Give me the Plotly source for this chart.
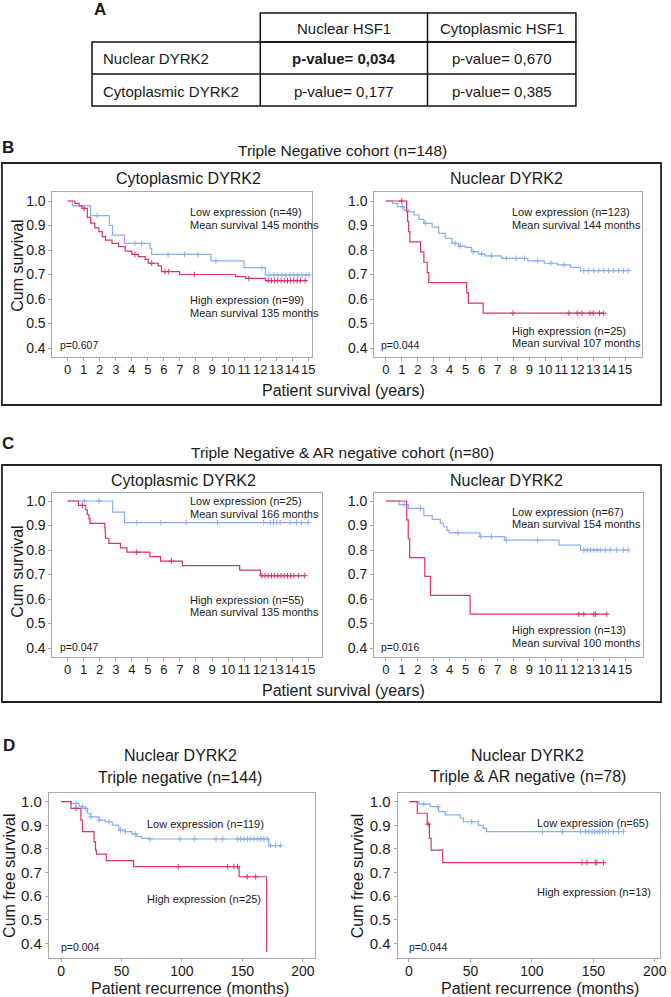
import numpy as np
import plotly.graph_objects as go

W, H = 671, 997
FONT = "Liberation Sans, Arial, Helvetica, sans-serif"
BLUE = "#8aaef0"
RED = "#d6366a"
FRAME = "#a9a9a9"

# ---------------- DATA ----------------
# Panel A table
table_cols = ["Nuclear HSF1", "Cytoplasmic HSF1"]
table_rows = ["Nuclear DYRK2", "Cytoplasmic DYRK2"]
table_pvals = [["0,034", "0,670"], ["0,177", "0,385"]]
table_bold = [[True, False], [False, False]]

# Panel B left: Cytoplasmic DYRK2, TN cohort (years)
bL_low_t = [0.31, 1.44, 2.6, 2.8, 3.55, 5.13, 5.24, 8.93, 10.99, 12.32]
bL_low_s = [0.98, 0.94, 0.90, 0.861, 0.827, 0.805, 0.782, 0.756, 0.728, 0.698]
bL_low_end = 15.1
bL_low_cens = [1.84, 4.2, 4.62, 6.26, 7.29, 8.11, 9.24, 12.1, 12.55, 12.85, 13.1, 13.35,
               13.6, 13.85, 14.1, 14.35, 14.6, 14.85, 15.05]
bL_high_t = [0.45, 0.72, 0.9, 1.23, 1.44, 1.7, 1.95, 2.16, 2.36, 2.77, 3.18, 3.59, 4.0,
             4.41, 4.83, 5.03, 5.65, 5.85, 6.98, 10.47, 11.09, 12.32]
bL_high_s = [0.99, 0.98, 0.97, 0.933, 0.91, 0.89, 0.875, 0.855, 0.84, 0.827, 0.814, 0.795,
             0.782, 0.773, 0.762, 0.746, 0.735, 0.712, 0.70, 0.691, 0.684, 0.675]
bL_high_end = 14.9
bL_high_cens = [1.03, 4.2, 5.24, 6.06, 6.3, 7.9, 11.29, 12.5, 12.7, 12.9, 13.1, 13.3, 13.5,
                13.7, 13.9, 14.1, 14.3, 14.5, 14.8]

# Panel B right: Nuclear DYRK2, TN cohort (years)
bR_low_t = [0.41, 0.72, 1.14, 1.45, 1.76, 2.07, 2.38, 2.9, 3.31, 3.72, 4.14, 4.55, 4.97,
            5.38, 5.79, 6.21, 7.24, 8.9, 9.93, 10.76, 11.59, 12.21]
bR_low_s = [0.99, 0.977, 0.963, 0.956, 0.943, 0.925, 0.909, 0.893, 0.868, 0.848, 0.827,
            0.816, 0.811, 0.793, 0.784, 0.776, 0.766, 0.756, 0.746, 0.739, 0.729, 0.716]
bR_low_end = 15.2
bR_low_cens = [1.03, 2.48, 4.34, 4.66, 5.48, 6.0, 6.62, 7.55, 8.17, 8.69, 9.52, 10.35,
               11.17, 12.41, 12.72, 13.04, 13.35, 13.66, 13.97, 14.28, 14.59, 14.9, 15.2]
bR_high_t = [1.3, 1.36, 1.42, 1.5, 2.17, 2.38, 2.59, 2.69, 5.07, 5.17, 6.1]
bR_high_s = [0.958, 0.917, 0.875, 0.833, 0.792, 0.75, 0.708, 0.667, 0.625, 0.583, 0.542]
bR_high_end = 13.66
bR_high_cens = [0.99, 7.97, 11.48, 12.0, 12.3, 12.8, 13.0, 13.4, 13.66]

# Panel C left: Cytoplasmic DYRK2, TN & AR- cohort (years)
cL_low_t = [2.81, 3.55]
cL_low_s = [0.955, 0.912]
cL_low_end = 15.09
cL_low_cens = [1.03, 1.95, 4.31, 5.81, 7.39, 9.34, 12.22, 12.63, 12.83, 13.04, 13.24,
               13.86, 14.27, 14.58, 14.99]
cL_high_t = [0.68, 1.13, 1.23, 1.33, 1.4, 2.32, 2.34, 2.36, 2.57, 3.29, 3.7, 5.13, 5.79,
             7.15, 10.72, 12.01]
cL_high_s = [0.982, 0.964, 0.945, 0.927, 0.909, 0.891, 0.873, 0.848, 0.827, 0.809, 0.791,
             0.773, 0.755, 0.736, 0.718, 0.695]
cL_high_end = 14.78
cL_high_cens = [0.92, 4.31, 6.47, 12.1, 12.3, 12.5, 12.7, 12.9, 13.1, 13.3, 13.5, 13.7,
                13.9, 14.1, 14.4, 14.78]

# Panel C right: Nuclear DYRK2, TN & AR- cohort (years)
cR_low_t = [0.83, 1.41, 2.38, 2.9, 3.41, 3.62, 3.83, 3.97, 5.9, 7.45, 10.86, 12.21]
cR_low_s = [0.985, 0.97, 0.94, 0.925, 0.91, 0.895, 0.88, 0.87, 0.855, 0.84, 0.82, 0.80]
cR_low_end = 15.2
cR_low_cens = [1.14, 2.17, 4.51, 5.95, 6.62, 7.55, 9.52, 12.41, 12.62, 12.83, 13.04,
               13.24, 13.45, 13.76, 14.07, 14.48, 14.9, 15.2]
cR_high_t = [1.3, 1.4, 1.49, 2.44, 2.79, 5.28]
cR_high_s = [0.923, 0.846, 0.769, 0.692, 0.615, 0.538]
cR_high_end = 13.86
cR_high_cens = [12.1, 12.41, 13.04, 13.14, 13.86]

# Panel D left: recurrence, Nuclear DYRK2, Triple negative (months)
dL_low_t = [8.2, 15, 18, 21.8, 24.6, 31.4, 36.8, 42.3, 47.7, 53.2, 58.7, 62.8, 66.8,
            72.3, 171.9]
dL_low_s = [0.993, 0.979, 0.972, 0.951, 0.936, 0.922, 0.915, 0.901, 0.880, 0.873, 0.863,
            0.852, 0.845, 0.842, 0.814]
dL_low_end = 182.8
dL_low_cens = [12.3, 17.7, 20.5, 24.6, 31.4, 39.6, 49.1, 53.2, 61.4, 73.7, 98.2, 110.5,
               128.2, 133.7, 146, 148.8, 151.4, 154.2, 156.9, 159.6, 162.3, 165.1, 167.8,
               170.5, 173.3, 177.3, 181.4]
dL_high_t = [8.2, 16.4, 17.7, 27.3, 28.5, 29.2, 37.4, 60, 147.3, 170]
dL_high_s = [0.972, 0.922, 0.873, 0.83, 0.795, 0.778, 0.75, 0.725, 0.682, 0.364]
dL_high_end = None
dL_high_cens = [12.3, 96.9, 137.8, 143, 146, 154, 161]

# Panel D right: recurrence, Nuclear DYRK2, Triple & AR negative (months)
dR_low_t = [8.1, 17.4, 24.2, 29.5, 41.6, 44.3, 56.4, 60.4, 63.1]
dR_low_s = [0.99, 0.979, 0.958, 0.944, 0.93, 0.915, 0.90, 0.887, 0.873]
dR_low_end = 174.5
dR_low_cens = [12.1, 23.5, 51, 108.7, 124.8, 139.6, 143.6, 146.3, 149, 150.9, 153, 155.2,
               157.3, 159.7, 162.4, 166.4, 170.5, 174.5]
dR_high_t = [6.7, 14.8, 16.6, 18, 27.4]
dR_high_s = [0.951, 0.905, 0.845, 0.795, 0.742]
dR_high_end = 158.4
dR_high_cens = [15.6, 140.9, 144.9, 151.6, 153, 158.4]

years_ticks = list(range(0, 16))
months_ticks = [0, 50, 100, 150, 200]
surv_ticks = [1.0, 0.9, 0.8, 0.7, 0.6, 0.5, 0.4]

# ---------------- LAYOUT GEOMETRY (pixels) ----------------
panels = [
    dict(box=(53, 192, 315, 357), x0=68.3, xs=16.22, y1=201, ys=24.5, xt=years_ticks, tf=13, yf=14,
         curves=[(bL_low_t, bL_low_s, bL_low_end, bL_low_cens, BLUE),
                 (bL_high_t, bL_high_s, bL_high_end, bL_high_cens, RED)]),
    dict(box=(378.3, 192, 648.3, 357), x0=390, xs=16.11, y1=201, ys=24.5, xt=years_ticks, tf=13, yf=14,
         curves=[(bR_low_t, bR_low_s, bR_low_end, bR_low_cens, BLUE),
                 (bR_high_t, bR_high_s, bR_high_end, bR_high_cens, RED)]),
    dict(box=(53, 493, 325, 657), x0=68.3, xs=16.22, y1=501, ys=24.5, xt=years_ticks, tf=13, yf=14,
         curves=[(cL_low_t, cL_low_s, cL_low_end, cL_low_cens, BLUE),
                 (cL_high_t, cL_high_s, cL_high_end, cL_high_cens, RED)]),
    dict(box=(378, 493, 650, 657), x0=390, xs=16.11, y1=501, ys=24.5, xt=years_ticks, tf=13, yf=14,
         curves=[(cR_low_t, cR_low_s, cR_low_end, cR_low_cens, BLUE),
                 (cR_high_t, cR_high_s, cR_high_end, cR_high_cens, RED)]),
    dict(box=(49.3, 793.3, 318.3, 958.3), x0=61.7, xs=1.2217, y1=801.7, ys=23.6, xt=months_ticks, tf=14, yf=15,
         curves=[(dL_low_t, dL_low_s, dL_low_end, dL_low_cens, BLUE),
                 (dL_high_t, dL_high_s, dL_high_end, dL_high_cens, RED)]),
    dict(box=(401.7, 793.3, 666.7, 958.3), x0=413.3, xs=1.2417, y1=801.7, ys=23.6, xt=months_ticks, tf=14, yf=15,
         curves=[(dR_low_t, dR_low_s, dR_low_end, dR_low_cens, BLUE),
                 (dR_high_t, dR_high_s, dR_high_end, dR_high_cens, RED)]),
]


def px(x):
    return x / W


def py(y):
    return 1 - y / H


def step_at(times, surv, c):
    val = 1.0
    for t, s in zip(times, surv):
        if t <= c:
            val = s
    return val


fig = go.Figure()
layout_axes = {}
for i, p in enumerate(panels):
    n = "" if i == 0 else str(i + 1)
    l, t, r, b = p["box"]
    xr = [(l - p["x0"]) / p["xs"], (r - p["x0"]) / p["xs"]]
    yr = [1 - (b - p["y1"]) / (p["ys"] * 10), 1 + (p["y1"] - t) / (p["ys"] * 10)]
    common = dict(showline=True, mirror=True, linecolor=FRAME, linewidth=1, ticks="outside",
                  ticklen=3, tickcolor=FRAME, showgrid=False, zeroline=False, tickangle=0)
    layout_axes["xaxis" + n] = dict(domain=[px(l), px(r)], range=xr, anchor="y" + n,
                                    tickmode="array", tickvals=p["xt"],
                                    ticktext=[str(v) for v in p["xt"]], ticklabelstandoff=-3,
                                    tickfont=dict(size=p["tf"], color="#1a1a1a", family=FONT), **common)
    layout_axes["yaxis" + n] = dict(domain=[py(b), py(t)], range=yr, anchor="x" + n,
                                    tickmode="array", tickvals=surv_ticks,
                                    ticktext=[f"{v:.1f}" for v in surv_ticks],
                                    tickfont=dict(size=p["yf"], color="#1a1a1a", family=FONT), **common)
    for (tt, ss, end, cens, col) in p["curves"]:
        xs = [0] + list(tt) + ([end] if end is not None else [])
        ys = [1.0] + list(ss) + ([ss[-1]] if end is not None else [])
        fig.add_trace(go.Scatter(x=xs, y=ys, mode="lines", line=dict(color=col, width=1.2, shape="hv"),
                                 xaxis="x" + n, yaxis="y" + n, showlegend=False, hoverinfo="skip"))
        cy = [step_at(tt, ss, c) for c in cens]
        fig.add_trace(go.Scatter(x=cens, y=cy, mode="markers",
                                 marker=dict(symbol="cross-thin", size=4, line=dict(color=col, width=1)),
                                 xaxis="x" + n, yaxis="y" + n, showlegend=False, hoverinfo="skip"))

annotations = []


def ann(x, y, text, size=10.5, xanchor="left", bold=False, angle=0, color="#1a1a1a"):
    if bold:
        text = "<b>" + text + "</b>"
    annotations.append(dict(x=px(x), y=py(y), xref="paper", yref="paper", text=text,
                            showarrow=False, xanchor=xanchor, yanchor="middle", textangle=angle,
                            font=dict(size=size, family=FONT, color=color)))


# ---- Panel A: table ----
ann(101, 9, "A", size=17, xanchor="center", bold=True)
shapes = []
tb_line = dict(color="#111", width=1.5)
col_x = [93, 263, 432, 582]
row_y = [13, 42, 74, 106]
shapes.append(dict(type="rect", xref="paper", yref="paper", x0=px(263), x1=px(582), y0=py(42), y1=py(13), line=tb_line))
shapes.append(dict(type="line", xref="paper", yref="paper", x0=px(432), x1=px(432), y0=py(42), y1=py(13), line=tb_line))
shapes.append(dict(type="rect", xref="paper", yref="paper", x0=px(93), x1=px(582), y0=py(106), y1=py(42), line=tb_line))
shapes.append(dict(type="line", xref="paper", yref="paper", x0=px(93), x1=px(582), y0=py(74), y1=py(74), line=tb_line))
for cx in (263, 432):
    shapes.append(dict(type="line", xref="paper", yref="paper", x0=px(cx), x1=px(cx), y0=py(106), y1=py(42), line=tb_line))
for j, c in enumerate(table_cols):
    ann((col_x[j + 1] + col_x[j + 2]) / 2, 29, c, size=15, xanchor="center")
for i, rname in enumerate(table_rows):
    yc = (row_y[i + 1] + row_y[i + 2]) / 2 + 1
    ann(102, yc, rname, size=15)
    for j in range(2):
        ann((col_x[j + 1] + col_x[j + 2]) / 2, yc, "p-value= " + table_pvals[i][j], size=15,
            xanchor="center", bold=table_bold[i][j])

# ---- Panel B ----
ann(8, 147, "B", size=17, xanchor="center", bold=True)
ann(346, 150, "Triple Negative cohort (n=148)", size=15.5, xanchor="center")
shapes.append(dict(type="rect", xref="paper", yref="paper", x0=px(2), x1=px(668), y0=py(405), y1=py(163),
                   line=dict(color="#222", width=1.8)))
ann(190, 179, "Cytoplasmic DYRK2", size=16, xanchor="center")
ann(512, 179, "Nuclear DYRK2", size=16, xanchor="center")
ann(17, 266, "Cum survival", size=16, xanchor="center", angle=-90)
ann(347, 391, "Patient survival (years)", size=16, xanchor="center")
ann(190, 212, "Low expression (n=49)", size=11)
ann(190, 225, "Mean survival 145 months", size=11)
ann(190, 300, "High expression (n=99)", size=11)
ann(190, 313, "Mean survival 135 months", size=11)
ann(59, 345, "p=0.607")
ann(515, 212, "Low expression (n=123)", size=11)
ann(515, 225, "Mean survival 144 months", size=11)
ann(515, 331, "High expression (n=25)", size=11)
ann(515, 343, "Mean survival 107 months", size=11)
ann(383, 345, "p=0.044")

# ---- Panel C ----
ann(8, 443, "C", size=17, xanchor="center", bold=True)
ann(346, 452, "Triple Negative &amp; AR negative cohort (n=80)", size=15.5, xanchor="center")
shapes.append(dict(type="rect", xref="paper", yref="paper", x0=px(2), x1=px(668), y0=py(702), y1=py(465),
                   line=dict(color="#222", width=1.8)))
ann(185, 481, "Cytoplasmic DYRK2", size=16, xanchor="center")
ann(512, 481, "Nuclear DYRK2", size=16, xanchor="center")
ann(17, 572, "Cum survival", size=16, xanchor="center", angle=-90)
ann(347, 690, "Patient survival (years)", size=16, xanchor="center")
ann(190, 501, "Low expression (n=25)", size=11)
ann(190, 514, "Mean survival 166 months", size=11)
ann(190, 600, "High expression (n=55)", size=11)
ann(190, 612, "Mean survival 135 months", size=11)
ann(59, 647, "p=0.047")
ann(515, 512, "Low expression (n=67)", size=11)
ann(515, 524, "Mean survival 154 months", size=11)
ann(515, 630, "High expression (n=13)", size=11)
ann(515, 643, "Mean survival 100 months", size=11)
ann(383, 647, "p=0.016")

# ---- Panel D ----
ann(9, 745, "D", size=17, xanchor="center", bold=True)
ann(182, 755, "Nuclear DYRK2", size=16, xanchor="center")
ann(182, 777, "Triple negative (n=144)", size=16, xanchor="center")
ann(533, 755, "Nuclear DYRK2", size=16, xanchor="center")
ann(534, 776, "Triple &amp; AR negative (n=78)", size=16, xanchor="center")
ann(9, 876, "Cum free survival", size=16, xanchor="center", angle=-90)
ann(361, 876, "Cum free survival", size=16, xanchor="center", angle=-90)
ann(192, 988, "Patient recurrence (months)", size=16, xanchor="center")
ann(546, 988, "Patient recurrence (months)", size=16, xanchor="center")
ann(147, 824, "Low expression (n=119)", size=11)
ann(147, 899, "High expression (n=25)", size=11)
ann(60, 947, "p=0.004")
ann(541, 823, "Low expression (n=65)", size=11)
ann(541, 892, "High expression (n=13)", size=11)
ann(411, 947, "p=0.044")

fig.update_layout(width=W, height=H, margin=dict(l=0, r=0, t=0, b=0), autosize=False,
                  paper_bgcolor="white", plot_bgcolor="white", showlegend=False,
                  font=dict(family=FONT, color="#1a1a1a"),
                  annotations=annotations, shapes=shapes, **layout_axes)

fig.write_html("out.html", config={"displayModeBar": False},
               post_script="document.body.style.margin='0';")
